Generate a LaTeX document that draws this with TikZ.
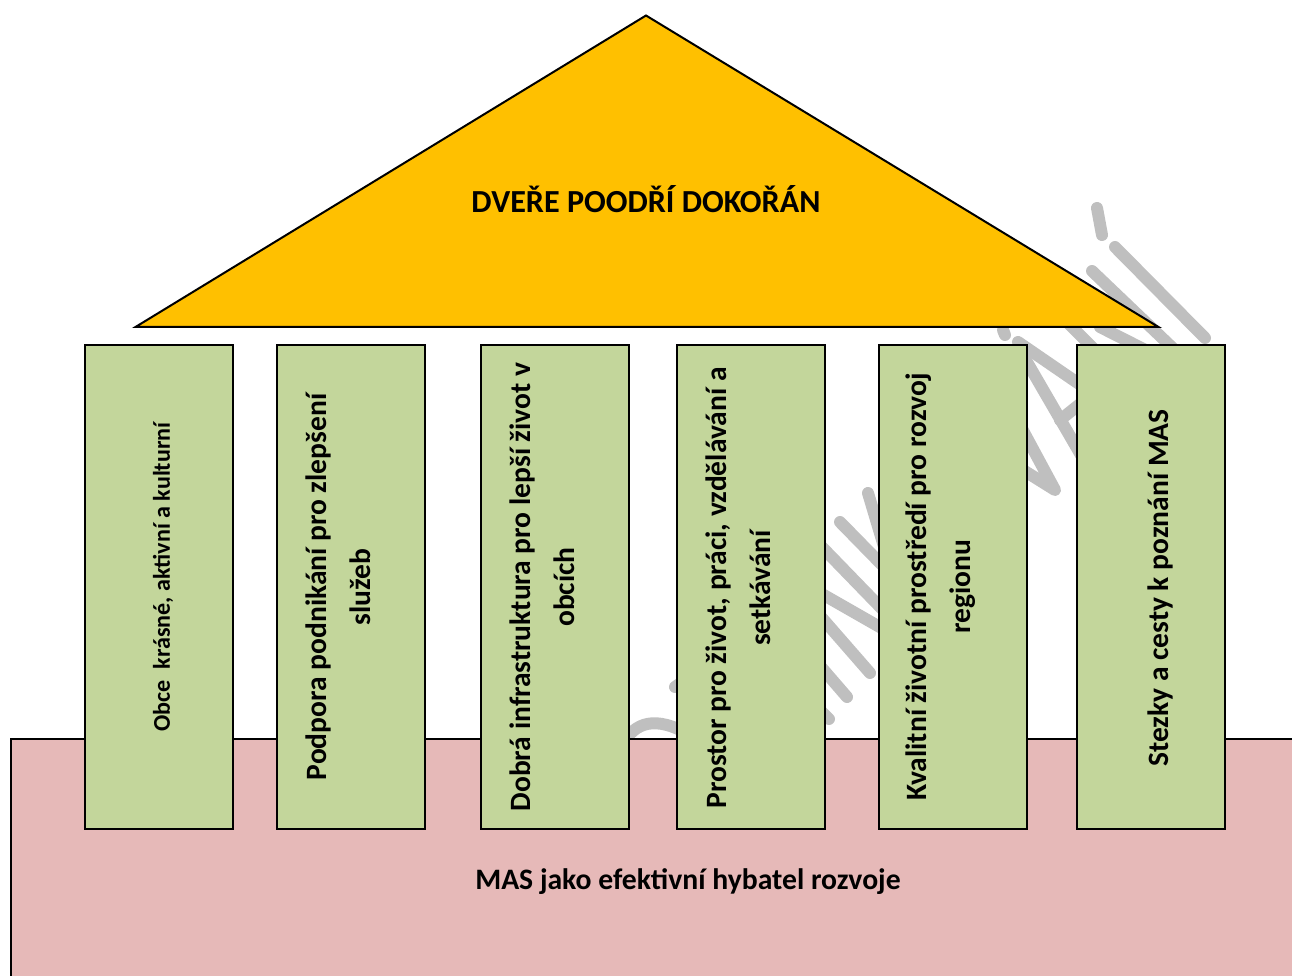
\documentclass[tikz,border=0pt]{standalone}
\usepackage{fontspec}
\setmainfont{Carlito}
\definecolor{roofc}{HTML}{FFC000}
\definecolor{pillarc}{HTML}{C3D69B}
\definecolor{basec}{HTML}{E6B9B8}
\definecolor{markc}{HTML}{BFBFBF}
\tikzset{
  pillar/.style={draw=black,fill=pillarc,line width=0.04cm,minimum width=2.96cm,minimum height=9.68cm,inner sep=0pt,anchor=north west},
  pillartext/.style={rotate=90,align=center,font=\bfseries\fontsize{16.8}{25}\selectfont,inner sep=0pt},
  smalltext/.style={rotate=90,align=center,font=\bfseries\fontsize{13.7}{15}\selectfont,inner sep=0pt},
  wm/.style={draw=markc,line width=0.24cm,line cap=round,line join=round},
  roof/.style={draw=black,fill=roofc,line width=0.04cm,line join=miter},
  basebox/.style={draw=black,fill=basec,line width=0.04cm},
  headtext/.style={font=\bfseries\fontsize{18.3}{22}\selectfont,inner sep=0pt},
  basetext/.style={font=\bfseries\fontsize{16.9}{20}\selectfont,inner sep=0pt}
}
\begin{document}
\begin{tikzpicture}[x=0.02cm,y=-0.02cm]
\useasboundingbox (0,0) rectangle (1292,976);
\clip (0,0) rectangle (1292,976);
% watermark
\draw[wm] (1097,208) -- (1102,235);
\draw[wm] (1115,247) -- (1205,338);
\draw[wm] (1092,271) -- (1180,355);
\draw[wm] (1060,315) -- (1110,365);
\draw[wm] (1100,327) -- (1175,365);
\draw[wm] (1003,330) -- (1005,335);
\draw[wm] (1018,342) -- (1085,388);
\draw[wm] (1020,350) -- (1085,462);
\draw[wm] (1060,420) -- (1085,400);
\draw[wm] (1020,425) -- (1055,490) -- (1015,465);
\draw[wm] (868,493) -- (885,550);
\draw[wm] (840,522) -- (885,568);
\draw[wm] (820,545) -- (885,612);
\draw[wm] (815,590) -- (885,630);
\draw[wm] (815,610) -- (870,673);
\draw[wm] (815,660) -- (847,697);
\draw[wm] (815,705) -- (829,719);
\draw[wm] (622,745) .. controls (635,722) and (655,715) .. (690,735);
\draw[wm] (675,687) -- (685,680);
% shapes
\path[roof] (646,15.5) -- (1158.5,327) -- (135.5,327) -- cycle;
\node[headtext] (title) at (646,199) {DVEŘE POODŘÍ DOKOŘÁN};
\path[basebox] (11,739) rectangle (1310,1000);
\node[basetext] (base) at (688,882) {MAS jako efektivní hybatel rozvoje};
\node[pillar] (p1) at (84,344.5) {};
\node[pillar] (p2) at (276,344.5) {};
\node[pillar] (p3) at (480,344.5) {};
\node[pillar] (p4) at (676,344.5) {};
\node[pillar] (p5) at (878,344.5) {};
\node[pillar] (p6) at (1076,344.5) {};
\node[smalltext] (t1) at (163,577) {Obce\ \ krásné, aktivní a kulturní};
\node[pillartext] (t2) at (338,587) {Podpora podnikání pro zlepšení\\služeb};
\node[pillartext] (t3) at (542,587) {Dobrá infrastruktura pro lepší život v\\obcích};
\node[pillartext] (t4) at (738,588) {Prostor pro život, práci, vzdělávání a\\setkávání};
\node[pillartext] (t5) at (941,587) {Kvalitní životní prostředí pro rozvoj\\regionu};
\node[pillartext] (t6) at (1160,588) {Stezky a cesty k poznání MAS};
\end{tikzpicture}
\end{document}
